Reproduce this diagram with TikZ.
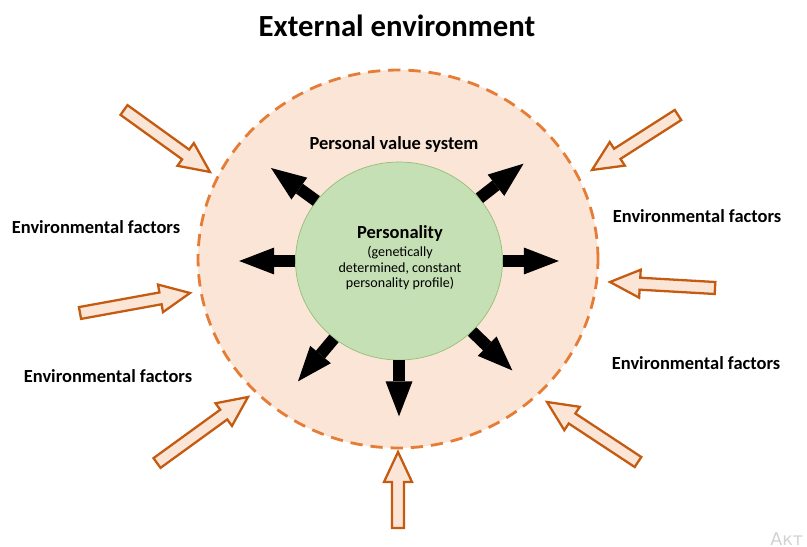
\documentclass[tikz,border=0pt]{standalone}
\usepackage{fontspec}
\setmainfont{Carlito}
\newfontfamily\wmfont{DejaVu Sans}
\usetikzlibrary{arrows.meta,shapes.geometric,calc}

\definecolor{peach}{HTML}{FBE5D6}
\definecolor{envorange}{RGB}{230,125,55}
\definecolor{arrorange}{HTML}{C55A11}
\definecolor{persgreen}{HTML}{C5E0B4}
\definecolor{persedge}{RGB}{150,190,120}

\tikzset{
  lbl/.style={font=\bfseries\fontsize{10.5}{12}\selectfont},
  subtext/.style={align=center,font=\fontsize{8}{9.1}\selectfont},
  outarrow/.style={line width=6.8pt,-{Triangle[length=0.7cm,width=0.54cm,line width=0pt]}},
  inarrow line/.style={draw=arrorange,fill=peach,line width=1.3pt,line join=miter},
  pics/inarrow/.style={code={
    \draw[inarrow line] (0,-6) -- ({#1-30},-6) -- ({#1-30},-14) -- (#1,0) -- ({#1-30},14) -- ({#1-30},6) -- (0,6) -- cycle;
  }}
}

\begin{document}
\begin{tikzpicture}[x=0.02cm,y=-0.02cm]
\useasboundingbox (0,0) rectangle (807,547);

\node[lbl,font=\bfseries\fontsize{17.5}{20}\selectfont] (title) at (397,26) {External environment};

%environment and personality
\node[ellipse,draw=envorange,fill=peach,line width=1.6pt,dash pattern=on 7pt off 4.5pt,minimum width=8cm,minimum height=7.56cm] (env) at (398,259) {};
\node[ellipse,draw=persedge,fill=persgreen,minimum width=4.14cm,minimum height=3.96cm] (pers) at (399,261) {};
\node[lbl] (perstitle) at (400,233) {Personality};
\node[subtext] (persnote) at (400,268) {(genetically\\determined, constant\\personality profile)};
\node[lbl] (values) at (394,144) {Personal value system};

%arrows out of the personality
\foreach \a in {0,38,144,180,230,270,316}{
\coordinate (tip\a) at ($(pers.\a)+(\a:1.12cm)$);
\draw[outarrow] (pers.\a) -- (tip\a);}

%environmental factors
\node[lbl] (ef1) at (96,227) {Environmental factors};
\node[lbl] (ef2) at (108,376) {Environmental factors};
\node[lbl] (ef3) at (697,216) {Environmental factors};
\node[lbl] (ef4) at (696,363) {Environmental factors};

\coordinate (s1) at (124,110); \coordinate (t1) at (210,172);
\coordinate (s2) at (80,313);  \coordinate (t2) at (190,293);
\coordinate (s3) at (157,463); \coordinate (t3) at (248,397);
\coordinate (s4) at (398,528); \coordinate (t4) at (398,452);
\coordinate (s5) at (638,462); \coordinate (t5) at (547,402);
\coordinate (s6) at (715,288); \coordinate (t6) at (610,282);
\coordinate (s7) at (678,115); \coordinate (t7) at (592,170);
\foreach \i in {1,...,7}{
\path let \p1=($(t\i)-(s\i)$), \n1={scalar(atan2(\y1,\x1))}, \n2={scalar(veclen(\x1,\y1)/0.569)} in (s\i) pic[rotate=\n1] {inarrow=\n2};}

\node[anchor=base west,inner sep=0,text=gray!35,font=\wmfont\fontsize{10}{12}\selectfont] (wm) at (770,545) {Акт};

\end{tikzpicture}
\end{document}
